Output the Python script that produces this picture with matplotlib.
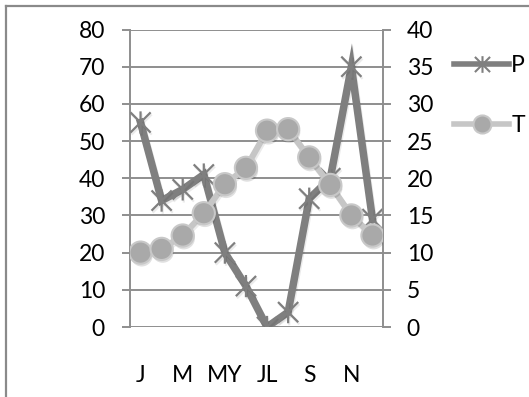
import matplotlib
matplotlib.use("Agg")
import matplotlib.pyplot as plt
import matplotlib.patheffects as pe
from matplotlib.path import Path
from matplotlib.lines import Line2D

# Monthly data: precipitation (left axis) and temperature (right axis)
months = ["J", "F", "M", "A", "MY", "JN", "JL", "AG", "S", "O", "N", "D"]
shown_labels = ["J", "", "M", "", "MY", "", "JL", "", "S", "", "N", ""]
precip = [55, 34, 37, 41, 20, 11, 0, 4, 34.5, 40, 70, 29]
temp = [10, 10.5, 12.3, 15.3, 19.2, 21.4, 26.4, 26.6, 22.8, 19.1, 15, 12.3]
left_ticks = [0, 10, 20, 30, 40, 50, 60, 70, 80]
right_ticks = [0, 5, 10, 15, 20, 25, 30, 35, 40]

plt.rcParams["font.family"] = ["Lato", "DejaVu Sans"]

W, H, DPI = 529, 397, 100
fig = plt.figure(figsize=(W / DPI, H / DPI), dpi=DPI)
fig.patch.set_facecolor("white")

# plot area in pixels
x0, x1, ytop, ybot = 130, 383, 29.5, 327
ax = fig.add_axes([x0 / W, 1 - ybot / H, (x1 - x0) / W, (ybot - ytop) / H])
ax2 = ax.twinx()

grid_c = "#8e8e8e"
xs = list(range(len(months)))

# asterisk marker: an X with a vertical bar through it
star = Path(
    [(-1, -1), (1, 1), (-1, 1), (1, -1), (0, -1.1), (0, 1.1)],
    [Path.MOVETO, Path.LINETO, Path.MOVETO, Path.LINETO, Path.MOVETO, Path.LINETO],
)

p_color = "#7f7f7f"
t_line = "#c6c6c6"
t_face = "#a9a9a9"
t_edge = "#c8c8c8"

line_shadow = [pe.SimpleLineShadow(offset=(0.8, -1.5), shadow_color="black", alpha=0.08), pe.Normal()]

ax.plot(xs, precip, color=p_color, lw=5.4, marker=star, ms=16,
        mec=p_color, mew=1.6, zorder=3,
        solid_joinstyle="miter", path_effects=line_shadow)

ax2.plot(xs, temp, color=t_line, lw=4.4, zorder=4, path_effects=line_shadow)
ax2.plot(xs, temp, ls="none", marker="o", ms=16, mfc=t_face, mec=t_edge, mew=1.5, zorder=5,
         path_effects=[pe.SimplePatchShadow(offset=(0.8, -2), shadow_rgbFace="black", alpha=0.12),
                       pe.Normal()])

ax.set_xlim(-0.5, 11.5)
ax.set_ylim(0, 80)
ax2.set_ylim(0, 40)
ax.set_yticks(left_ticks)
ax2.set_yticks(right_ticks)
ax.set_xticks(xs)
ax.set_xticklabels(shown_labels)

ax.yaxis.grid(True, color=grid_c, lw=1.4)
ax.set_axisbelow(True)

for a in (ax, ax2):
    for s in ("top", "bottom", "left", "right"):
        a.spines[s].set_visible(False)
    a.patch.set_visible(False)

ax.spines["left"].set_visible(True)
ax.spines["left"].set_color(grid_c)
ax.spines["left"].set_linewidth(1.4)
ax2.spines["right"].set_visible(True)
ax2.spines["right"].set_color(grid_c)
ax2.spines["right"].set_linewidth(1.4)

fs = 16.5
ax.tick_params(axis="y", length=5.5, width=1.4, color=grid_c, pad=12.5, labelsize=fs, labelcolor="black")
ax2.tick_params(axis="y", length=5.5, width=1.4, color=grid_c, pad=11.5, labelsize=fs, labelcolor="black")
ax.tick_params(axis="x", length=0, pad=27, labelsize=fs, labelcolor="black")

# legend handles
h_p = Line2D([], [], color=p_color, lw=4, marker=star, ms=12, mec=p_color, mew=1.5)
h_t = Line2D([], [], color=t_line, lw=4, marker="o", ms=13, mfc=t_face, mec=t_edge, mew=1.5)
ax2.legend(handles=[h_p, h_t], labels=["P", "T"], loc="upper left",
           bbox_to_anchor=(454 / W, 1 - 55 / H), bbox_transform=fig.transFigure,
           frameon=False, fontsize=fs, handlelength=2.4, handletextpad=0.1,
           labelspacing=1.7, borderaxespad=0, borderpad=0)

# outer frame of the chart
frame_c = "#8a8a8a"
fig.add_artist(Line2D([5.5 / W, 5.5 / W], [0, 1 - 5.5 / H], color=frame_c, lw=1.6,
                      transform=fig.transFigure))
fig.add_artist(Line2D([5.5 / W, 1], [1 - 5.5 / H, 1 - 5.5 / H], color=frame_c, lw=1.6,
                      transform=fig.transFigure))

fig.savefig("out.png", dpi=DPI)
